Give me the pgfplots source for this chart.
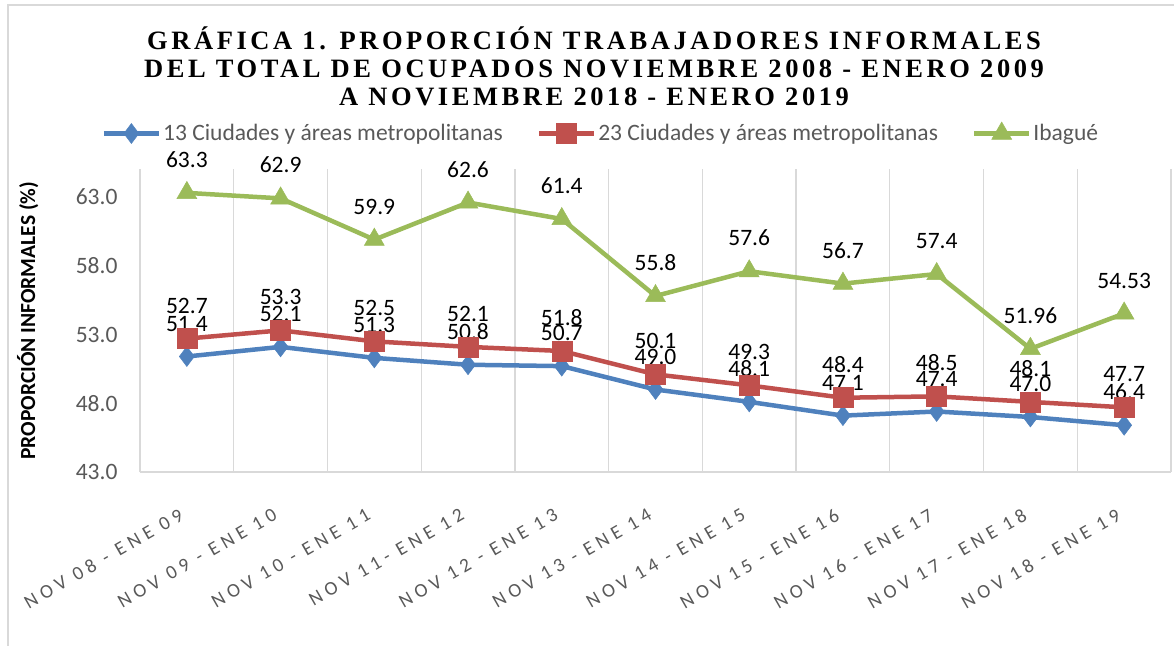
\documentclass[border=0pt]{standalone}
\usepackage{fontspec}
\setmainfont{Carlito}
\newfontfamily\titlefont[LetterSpace=13.5]{Liberation Serif}
\newfontfamily\tickfont[LetterSpace=25]{Carlito}
\usepackage{pgfplots}
\pgfplotsset{compat=1.18}
\usepackage{pgfplotstable}

\definecolor{cblue}{HTML}{4F81BD}
\definecolor{cred}{HTML}{C0504D}
\definecolor{cgreen}{HTML}{9BBB59}
\definecolor{tgray}{HTML}{595959}
\definecolor{ggray}{HTML}{D9D9D9}

\pgfplotstableread{
x y lab
0 51.4 51.4
1 52.1 52.1
2 51.3 51.3
3 50.8 50.8
4 50.7 50.7
5 49.0 49.0
6 48.1 48.1
7 47.1 47.1
8 47.4 47.4
9 47.0 47.0
10 46.4 46.4
}\tblA

\pgfplotstableread{
x y lab
0 52.7 52.7
1 53.3 53.3
2 52.5 52.5
3 52.1 52.1
4 51.8 51.8
5 50.1 50.1
6 49.3 49.3
7 48.4 48.4
8 48.5 48.5
9 48.1 48.1
10 47.7 47.7
}\tblB

\pgfplotstableread{
x y lab
0 63.3 63.3
1 62.9 62.9
2 59.9 59.9
3 62.6 62.6
4 61.4 61.4
5 55.8 55.8
6 57.6 57.6
7 56.7 56.7
8 57.4 57.4
9 51.96 51.96
10 54.53 54.53
}\tblC

\begin{document}
\begin{tikzpicture}
\path[use as bounding box] (0,0) rectangle (1174bp,646bp);
\draw[ggray, line width=1.3bp] (8bp,0) -- (8bp,641bp) -- (1174bp,641bp);
\begin{scope}[every node/.style={font=\titlefont\bfseries\fontsize{26.5bp}{28bp}\selectfont, inner sep=0pt, anchor=base}]
\node at (594bp,596.7bp) {GRÁFICA 1. PROPORCIÓN TRABAJADORES INFORMALES};
\node at (594bp,568.7bp) {DEL TOTAL DE OCUPADOS NOVIEMBRE 2008 - ENERO 2009};
\node at (594bp,540.7bp) {A NOVIEMBRE 2018 - ENERO 2019};
\end{scope}
\begin{axis}[
 at={(140bp,174bp)}, anchor=south west,
 scale only axis, width=1031bp, height=302.5bp,
 xmin=-0.5, xmax=10.5, ymin=43, ymax=65,
 clip=false,
 axis x line*=bottom, axis y line*=left,
 x axis line style={draw=ggray, line width=1.3bp, -},
 y axis line style={draw=none},
 xtick={0,...,10},
 xticklabels={NOV 08 - ENE 09, NOV 09 - ENE 10, NOV 10 - ENE 11, NOV 11- ENE 12, NOV 12 - ENE 13, NOV 13 - ENE 14, NOV 14 - ENE 15, NOV 15 - ENE 16, NOV 16 - ENE 17, NOV 17 - ENE 18, NOV 18 - ENE 19},
 minor xtick={-0.5,0.5,...,10.5},
 xminorgrids,
 minor grid style={ggray, line width=1.3bp},
 major tick length=0pt, minor tick length=0pt,
 ytick={43,48,53,58,63},
 /pgf/number format/assume math mode=true,
 yticklabel style={/pgf/number format/fixed, /pgf/number format/fixed zerofill, /pgf/number format/precision=1, font=\fontsize{23.5bp}{27bp}\selectfont, text=tgray, xshift=-19bp},
 xticklabel style={font=\tickfont\fontsize{19.5bp}{22bp}\selectfont, text=tgray, rotate=30, anchor=north east, xshift=-22bp, yshift=-23bp},
 ylabel={PROPORCIÓN INFORMALES (\%)},
 ylabel style={font=\bfseries\fontsize{21.5bp}{24bp}\selectfont, text=black, at={(axis description cs:-0.109,0.5)}, anchor=center},
 legend columns=3,
 legend cell align=left,
 legend style={draw=none, fill=none, font=\fontsize{23.5bp}{27bp}\selectfont, text=tgray, at={(0.447,1.12)}, anchor=center, inner sep=0pt, /tikz/every even column/.append style={column sep=32bp}},
 legend image code/.code={\draw[mark repeat=2,mark phase=2,#1] plot coordinates {(0bp,0bp) (27.5bp,0bp) (55bp,0bp)};},
 nodes near coords={\pgfplotspointmeta},
 point meta=explicit symbolic,
 nodes near coords style={font=\fontsize{23.5bp}{27bp}\selectfont, text=black, anchor=south, inner sep=0pt, yshift=25bp},
]
\draw[ggray, line width=1.3bp] (axis cs:-0.5,43) -- (axis cs:10.5,43);
\addplot[cblue, line width=4.5bp, mark=diamond*, mark size=10bp, mark options={line width=0.5bp, fill=cblue}] table[x=x, y=y, meta=lab] {\tblA};
\addlegendentry{13 Ciudades y áreas metropolitanas}
\addplot[cred, line width=4.5bp, mark=square*, mark size=10bp, mark options={line width=0.5bp, fill=cred}] table[x=x, y=y, meta=lab] {\tblB};
\addlegendentry{23 Ciudades y áreas metropolitanas}
\addplot[cgreen, line width=4.5bp, mark=triangle*, mark size=11.5bp, mark options={line width=0.5bp, fill=cgreen}] table[x=x, y=y, meta=lab] {\tblC};
\addlegendentry{Ibagué}
\end{axis}
\end{tikzpicture}
\end{document}
